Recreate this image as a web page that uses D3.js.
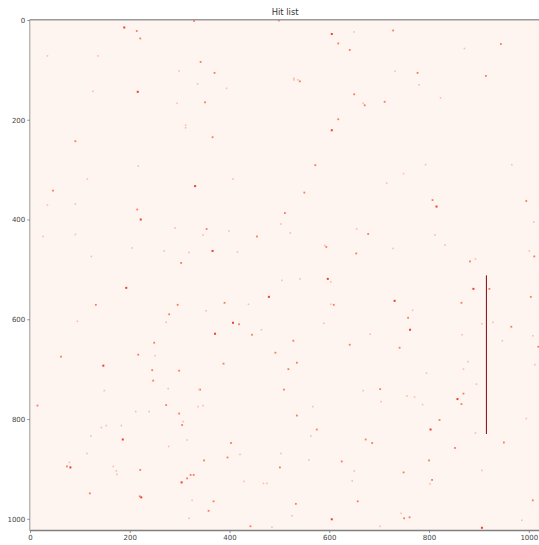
<!DOCTYPE html>
<html lang="en">
<head>
<meta charset="UTF-8">
<title>Hit list</title>
<script src="https://cdn.jsdelivr.net/npm/d3@7"></script>
<style>
  body { margin: 0; background: #fff; }
  svg { display: block; }
</style>
</head>
<body>
<script>

// matrix size and title
var gridSize = 1024;
var chartTitle = "Hit list";
var xTicks = [0, 200, 400, 600, 800, 1000];
var yTicks = [0, 200, 400, 600, 800, 1000];

// hit levels on the Reds colormap
var hitLevels = [0.62, 0.45, 0.24];

// strong hits [col, row]
var strongHits = [
  [189,15],[605,28],[216,144],[605,221],[331,333],[222,400],[193,537],[366,463],
  [597,519],[815,374],[889,539],[479,555],[407,607],[371,629],[147,693],[186,841],
  [731,563],[762,621],[857,760],[803,821],[304,927],[605,1001],[81,897],[223,957],[906,1018]
];

// medium hits
var mediumHits = [
  [214,22],[221,37],[329,2],[499,1],[618,47],[641,60],[342,84],[370,106],[541,123],
  [351,165],[650,149],[366,235],[618,199],[728,21],[944,48],[777,106],[914,112],
  [711,164],[671,171],[91,243],[46,342],[215,380],[303,487],[572,291],[550,346],
  [511,387],[354,419],[455,434],[678,429],[594,455],[654,468],[807,361],[995,363],
  [1011,474],[882,484],[921,539],[132,571],[296,571],[279,590],[249,647],[217,671],
  [62,675],[245,702],[299,703],[247,723],[15,773],[273,772],[299,789],[305,812],
  [390,567],[609,571],[419,610],[445,631],[641,651],[492,667],[388,689],[535,687],
  [341,741],[509,741],[535,793],[575,821],[403,848],[673,841],[1004,555],[865,567],
  [758,597],[965,615],[741,657],[1019,655],[702,740],[869,749],[865,770],[821,802],
  [686,848],[950,847],[74,895],[221,902],[120,949],[220,955],[349,883],[396,877],
  [501,897],[625,885],[322,912],[328,912],[315,919],[368,965],[358,984],[533,970],
  [657,965],[442,1015],[852,858],[800,883],[749,907],[806,922],[1008,963],[761,997],
  [750,999],[528,643],[518,700]
];

// faint hits
var faintHits = [
  [35,72],[136,72],[299,102],[126,143],[295,167],[650,24],[336,128],[529,117],[529,120],
  [537,120],[394,137],[312,211],[312,216],[871,57],[732,103],[780,130],[823,156],
  [668,167],[217,293],[115,319],[35,371],[91,369],[291,417],[26,434],[91,430],
  [205,457],[269,463],[319,466],[123,474],[407,319],[503,409],[522,427],[347,431],
  [399,423],[655,419],[591,452],[416,465],[505,522],[541,519],[603,525],[793,290],
  [966,290],[749,308],[715,327],[812,431],[1010,405],[832,451],[728,458],[1001,463],
  [893,479],[273,606],[95,604],[251,673],[277,739],[149,743],[339,741],[212,785],
  [239,785],[307,805],[337,775],[153,813],[143,817],[183,813],[122,834],[315,842],
  [438,570],[603,570],[353,583],[464,621],[589,608],[668,743],[347,773],[567,775],
  [563,834],[767,582],[928,606],[906,609],[682,630],[866,631],[1008,633],[947,643],
  [878,685],[869,700],[1012,691],[795,708],[895,730],[756,754],[771,756],[704,765],
  [787,771],[995,799],[893,828],[278,855],[114,869],[79,887],[167,895],[173,904],
  [174,911],[421,871],[503,869],[559,882],[650,904],[646,924],[429,925],[468,929],
  [475,929],[325,963],[525,994],[319,999],[485,1017],[906,903],[802,930],[744,989],
  [702,1015],[986,1003]
];

// the long vertical streak
var streakCol = 915;
var streakRows = [512, 830];
var streakValue = 0.95;

</script>

<script>
    var width = 539;
    var height = 545;

    // plot box (cells -0.5 .. 1023.5)
    var plotLeft = 29.75, plotTop = 19.75;
    var cell = 0.4988;
    var side = gridSize * cell;

    var x = d3.scaleLinear().domain([-0.5, gridSize - 0.5]).range([plotLeft, plotLeft + side]);
    var y = d3.scaleLinear().domain([-0.5, gridSize - 0.5]).range([plotTop, plotTop + side]);
    var color = d3.scaleSequential(d3.interpolateReds).domain([0, 1]);

    var svg = d3.select("body").append("svg")
        .attr("width", width)
        .attr("height", height);

    svg.append("defs").append("clipPath").attr("id", "plotClip")
        .append("rect")
        .attr("x", plotLeft).attr("y", plotTop)
        .attr("width", side).attr("height", side);

    var plot = svg.append("g").attr("clip-path", "url(#plotClip)");

    // background = zero value
    plot.append("rect")
        .attr("x", plotLeft).attr("y", plotTop)
        .attr("width", side).attr("height", side)
        .attr("fill", color(0));

    // hits
    var groups = [strongHits, mediumHits, faintHits];
    var sizes = [4, 3.6, 3.2];
    groups.forEach(function (list, g) {
        plot.selectAll(null)
            .data(list)
            .enter()
            .append("rect")
            .attr("x", function (d) { return x(d[0] - sizes[g] / 2); })
            .attr("y", function (d) { return y(d[1] - sizes[g] / 2); })
            .attr("width", function () { return x(sizes[g]) - x(0); })
            .attr("height", function () { return y(sizes[g]) - y(0); })
            .attr("fill", color(hitLevels[g]));
    });

    // streak
    plot.append("rect")
        .attr("x", x(streakCol - 1))
        .attr("y", y(streakRows[0]))
        .attr("width", x(2) - x(0))
        .attr("height", y(streakRows[1]) - y(streakRows[0]))
        .attr("fill", color(streakValue));

    // spines
    var spine = svg.append("g").attr("fill", "none").attr("stroke", "#9a9a9a").attr("stroke-width", 1.3);
    spine.append("line").attr("x1", plotLeft).attr("x2", plotLeft + side).attr("y1", plotTop).attr("y2", plotTop);
    spine.append("line").attr("x1", plotLeft).attr("x2", plotLeft + side).attr("y1", plotTop + side).attr("y2", plotTop + side).attr("stroke", "#808080");
    spine.append("line").attr("x1", plotLeft).attr("x2", plotLeft).attr("y1", plotTop).attr("y2", plotTop + side).attr("stroke", "#b0b0b0");

    // axes
    var xAxis = d3.axisBottom(x).tickValues(xTicks).tickSize(2.5).tickPadding(2).tickFormat(d3.format("d"));
    var yAxis = d3.axisLeft(y).tickValues(yTicks).tickSize(2.5).tickPadding(2).tickFormat(d3.format("d"));

    var gx = svg.append("g").attr("transform", "translate(0," + (plotTop + side) + ")").call(xAxis);
    var gy = svg.append("g").attr("transform", "translate(" + plotLeft + ",0)").call(yAxis);

    [gx, gy].forEach(function (g) {
        g.select(".domain").remove();
        g.selectAll(".tick line").attr("stroke", "#777").attr("stroke-width", 0.8);
        g.selectAll(".tick text")
            .attr("fill", "#444")
            .style("font-family", "DejaVu Sans, sans-serif")
            .style("font-size", "7px");
    });

    // title
    svg.append("text")
        .attr("x", plotLeft + side / 2)
        .attr("y", 15)
        .attr("text-anchor", "middle")
        .attr("fill", "#333")
        .style("font-family", "DejaVu Sans, sans-serif")
        .style("font-size", "8.4px")
        .text(chartTitle);
</script>
</body>
</html>
